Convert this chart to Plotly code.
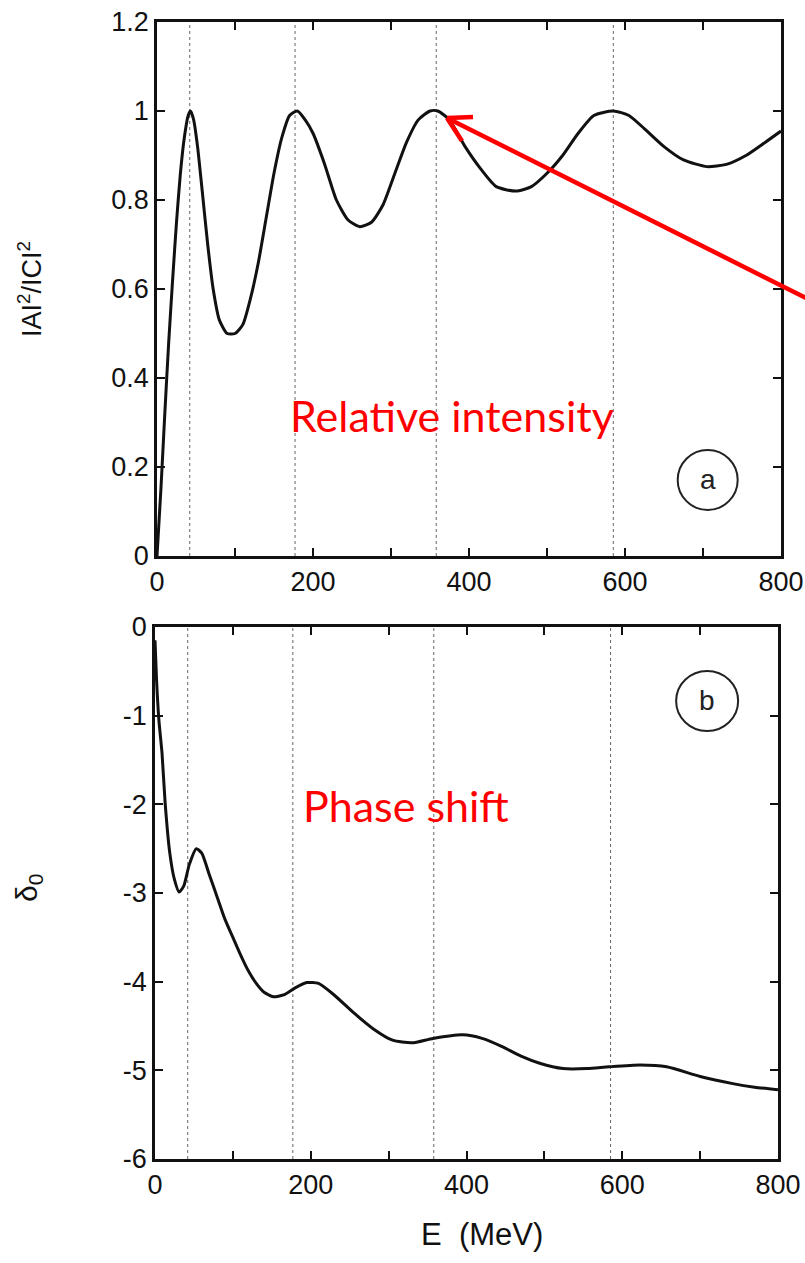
import plotly.graph_objects as go

# ---- data ----
E_a = [0, 5, 10, 15, 20, 25, 30, 35, 40, 43, 47, 52, 58, 65, 72, 80, 90, 100, 110, 120, 130, 140,
       150, 160, 170, 180, 190, 200, 215, 230, 245, 260, 275, 290, 305, 320, 335, 350, 360, 375,
       395, 415, 435, 460, 480, 500, 520, 540, 560, 585, 605, 625, 650, 675, 705, 730, 755, 780, 800]
intensity = [0.0, 0.15, 0.32, 0.48, 0.62, 0.75, 0.86, 0.94, 0.99, 1.0, 0.98, 0.92, 0.82, 0.70,
             0.60, 0.53, 0.50, 0.50, 0.52, 0.58, 0.66, 0.76, 0.86, 0.94, 0.99, 1.0, 0.98, 0.95,
             0.88, 0.80, 0.755, 0.74, 0.75, 0.79, 0.86, 0.93, 0.98, 1.0, 1.0, 0.98, 0.92, 0.87,
             0.83, 0.82, 0.83, 0.86, 0.90, 0.95, 0.99, 1.0, 0.99, 0.96, 0.92, 0.89, 0.875, 0.88,
             0.90, 0.93, 0.955]

E_b = [0, 2, 5, 9, 13, 19, 25, 31, 37, 44, 53, 60, 70, 80, 90, 100, 110, 120, 130, 140, 152, 165,
       180, 195, 210, 230, 255, 280, 305, 330, 357, 395, 420, 445, 470, 494, 524, 555, 583, 623,
       657, 700, 742, 770, 800]
delta0 = [-0.15, -0.6, -1.05, -1.42, -1.98, -2.55, -2.85, -2.99, -2.92, -2.68, -2.50, -2.55,
          -2.80, -3.05, -3.30, -3.50, -3.70, -3.88, -4.02, -4.12, -4.17, -4.15, -4.07, -4.01,
          -4.02, -4.15, -4.35, -4.53, -4.66, -4.69, -4.64, -4.60, -4.64, -4.73, -4.84, -4.92,
          -4.98, -4.98, -4.96, -4.94, -4.96, -5.07, -5.15, -5.19, -5.22]

resonances = [42, 177, 358, 585]

x_tickvals = [0, 100, 200, 300, 400, 500, 600, 700, 800]
x_ticktext = ["0", "", "200", "", "400", "", "600", "", "800"]
ya_tickvals = [0, 0.2, 0.4, 0.6, 0.8, 1.0, 1.2]
ya_ticktext = ["0", "0.2", "0.4", "0.6", "0.8", "1", "1.2"]
yb_tickvals = [0, -1, -2, -3, -4, -5, -6]
yb_ticktext = ["0", "-1", "-2", "-3", "-4", "-5", "-6"]

W, H = 805, 1263
def px(x): return x / W
def py(y): return 1 - y / H

fig = go.Figure()
fig.add_trace(go.Scatter(x=E_a, y=intensity, mode="lines", line=dict(color="#111", width=3, shape="spline", smoothing=0.6),
                         xaxis="x", yaxis="y", showlegend=False))
fig.add_trace(go.Scatter(x=E_b, y=delta0, mode="lines", line=dict(color="#111", width=3, shape="spline", smoothing=0.6),
                         xaxis="x2", yaxis="y2", showlegend=False))

FONT = "Liberation Sans, Arial, sans-serif"
font_tick = dict(family=FONT, size=27, color="#111")
axis_common = dict(showline=True, linewidth=2.5, linecolor="#111", mirror="ticks", ticks="inside",
                   ticklen=8, tickwidth=2, tickcolor="#111", showgrid=False, zeroline=False,
                   tickfont=font_tick, automargin=False)

fig.update_layout(
    template="none",
    width=W, height=H, margin=dict(l=0, r=0, t=0, b=0, autoexpand=False),
    paper_bgcolor="white", plot_bgcolor="white",
    xaxis=dict(domain=[px(157), px(781)], range=[0, 800], tickvals=x_tickvals, ticktext=x_ticktext,
               anchor="y", **axis_common),
    yaxis=dict(domain=[py(556), py(22)], range=[0, 1.2], tickvals=ya_tickvals, ticktext=ya_ticktext,
               anchor="x", **axis_common),
    xaxis2=dict(domain=[px(155), px(778)], range=[0, 800], tickvals=x_tickvals, ticktext=x_ticktext,
                anchor="y2", **axis_common),
    yaxis2=dict(domain=[py(1159), py(627)], range=[-6, 0], tickvals=yb_tickvals, ticktext=yb_ticktext,
                anchor="x2", **axis_common),
)

shapes = []
for e in resonances:
    for xr, yr in (("x", "y domain"), ("x2", "y2 domain")):
        shapes.append(dict(type="line", xref=xr, yref=yr, x0=e, x1=e, y0=0, y1=1,
                           line=dict(color="#666", width=1, dash="dot"), layer="below"))
# circled panel labels
shapes.append(dict(type="circle", xref="x", yref="y", xsizemode="pixel", ysizemode="pixel",
                   xanchor=706, yanchor=0.171, x0=-30, x1=30, y0=-30, y1=30,
                   line=dict(color="#222", width=2)))
shapes.append(dict(type="circle", xref="x2", yref="y2", xsizemode="pixel", ysizemode="pixel",
                   xanchor=709, yanchor=-0.834, x0=-31, x1=31, y0=-30, y1=30,
                   line=dict(color="#222", width=2)))
# red arrow (paper coordinates)
red = "#FF0000"
tip = (447, 118)
shapes.append(dict(type="line", xref="paper", yref="paper", x0=px(tip[0] + 4), y0=py(tip[1] + 2),
                   x1=px(812), y1=py(301), line=dict(color=red, width=4.5)))
shapes.append(dict(type="line", xref="paper", yref="paper", x0=px(tip[0]), y0=py(tip[1]),
                   x1=px(473), y1=py(117), line=dict(color=red, width=4.5)))
shapes.append(dict(type="line", xref="paper", yref="paper", x0=px(tip[0]), y0=py(tip[1]),
                   x1=px(462), y1=py(141), line=dict(color=red, width=4.5)))
fig.update_layout(shapes=shapes)

C = dict(xanchor="center", yanchor="middle", showarrow=False)
ann = [
    dict(text="IAI<sup>2</sup>/ICI<sup>2</sup>", xref="paper", yref="paper", x=px(30), y=py(289),
         textangle=-90, font=dict(family=FONT, size=27, color="#111"), **C),
    dict(text="δ<sub>0</sub>", xref="paper", yref="paper", x=px(28), y=py(888),
         textangle=-90, font=dict(family=FONT, size=30, color="#111"), **C),
    dict(text="E  (MeV)", xref="paper", yref="paper", x=px(482), y=py(1234),
         font=dict(family=FONT, size=31, color="#111"), **C),
    dict(text="a", xref="x", yref="y", x=706, y=0.171,
         font=dict(family=FONT, size=28, color="#222"), **C),
    dict(text="b", xref="x2", yref="y2", x=709, y=-0.834,
         font=dict(family=FONT, size=28, color="#222"), **C),
    dict(text="Relative intensity", xref="paper", yref="paper", x=px(452), y=py(415),
         font=dict(family="Lato, Open Sans, sans-serif", size=43, color=red), **C),
    dict(text="Phase shift", xref="paper", yref="paper", x=px(406), y=py(805),
         font=dict(family="Lato, Open Sans, sans-serif", size=43, color=red), **C),
]
fig.update_layout(annotations=ann)

fig.write_html("out.html")
